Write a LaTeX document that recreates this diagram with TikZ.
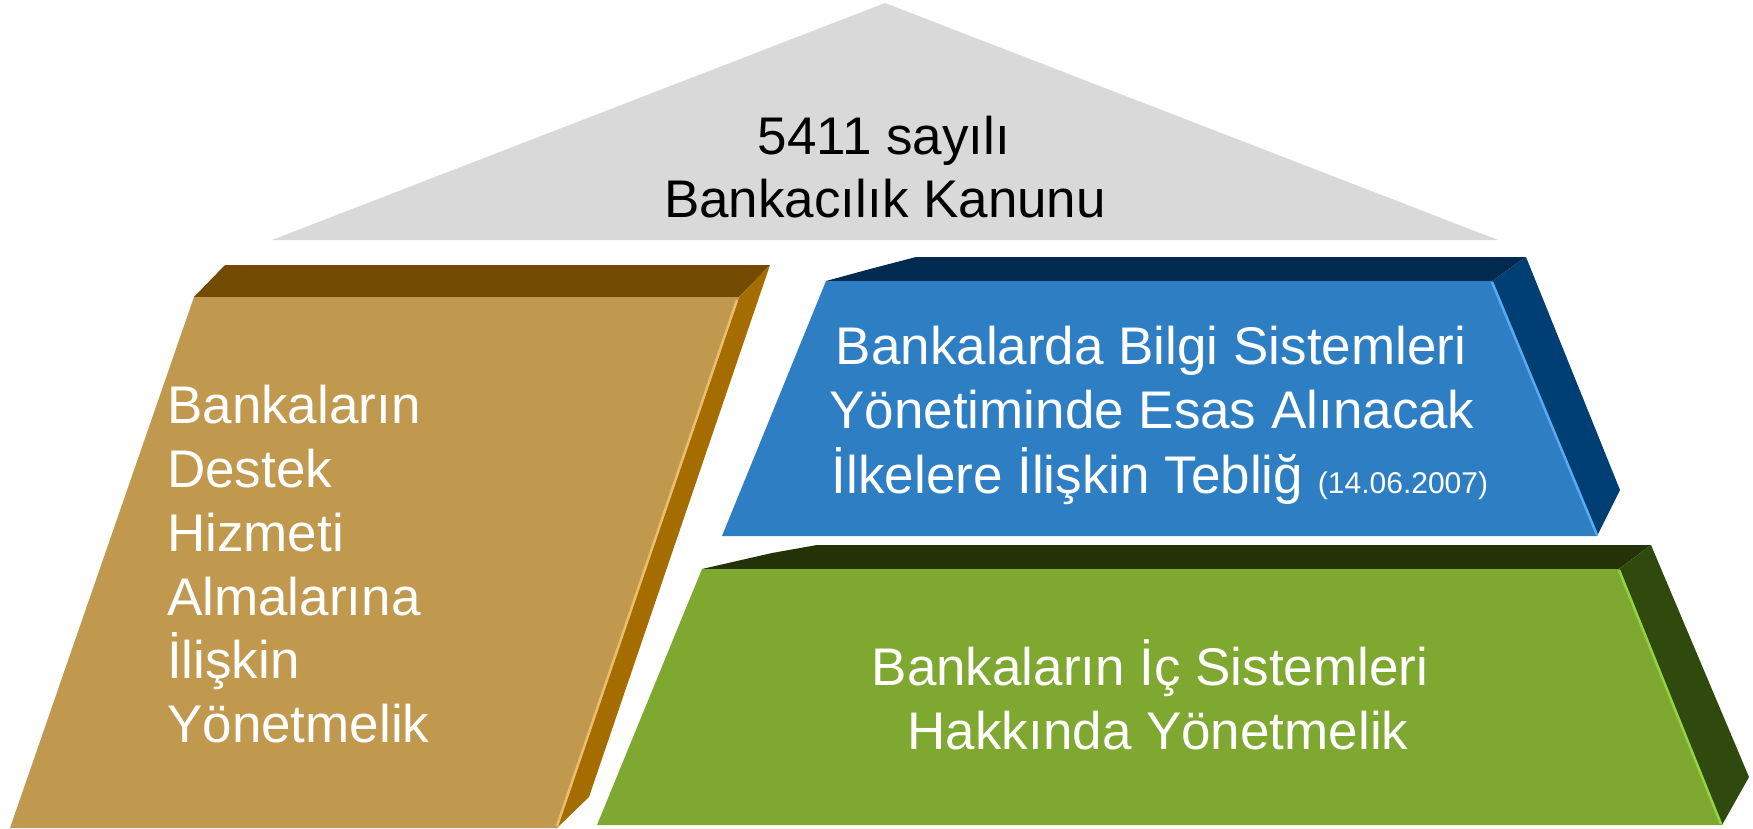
\documentclass[tikz,border=0pt]{standalone}
\usepackage{fontspec}
\setmainfont{Liberation Sans}
\definecolor{grayroof}{HTML}{D9D9D9}
\definecolor{brfront}{HTML}{C0984E}
\definecolor{brtop}{HTML}{724B00}
\definecolor{brside}{HTML}{A56D00}
\definecolor{brhi}{HTML}{EBBE6E}
\definecolor{blfront}{HTML}{2E7EC3}
\definecolor{bltop}{HTML}{002A50}
\definecolor{blside}{HTML}{003F74}
\definecolor{blhi}{HTML}{5AAAF0}
\definecolor{grfront}{HTML}{7EA82F}
\definecolor{grtop}{HTML}{243307}
\definecolor{grside}{HTML}{304A0E}
\definecolor{grhi}{HTML}{94D444}
\tikzset{
  bigtext/.style={inner sep=0pt, font=\fontsize{53}{64}\selectfont},
  whitetext/.style={bigtext, text=white},
  hiline/.style={line width=2.5pt}
}
\begin{document}
\begin{tikzpicture}[x=1pt,y=-1pt]
\useasboundingbox (0,0) rectangle (1753,829);
% roof
\fill[grayroof] (272,240) -- (885,3) -- (1498,240) -- cycle;
\node[bigtext, anchor=base] (roof1) at (884,155) {5411 sayılı};
\node[bigtext, anchor=base] (roof2) at (885,218) {Bankacılık Kanunu};
% brown block
\fill[brtop] (194,297) -- (225,265) -- (770,265) -- (739,297) -- cycle;
\fill[brside] (739,297) -- (770,265) -- (589,797) -- (557,828) -- cycle;
\fill[brfront] (194,297) -- (739,297) -- (557,828) -- (10,828) -- cycle;
\draw[brhi, hiline] (737,300) -- (557,826);
\node[whitetext, anchor=base west] (b1) at (167,423) {Bankaların};
\node[whitetext, anchor=base west] (b2) at (167,487) {Destek};
\node[whitetext, anchor=base west] (b3) at (167,551) {Hizmeti};
\node[whitetext, anchor=base west] (b4) at (167,615) {Almalarına};
\node[whitetext, anchor=base west] (b5) at (167,678) {İlişkin};
\node[whitetext, anchor=base west] (b6) at (167,742) {Yönetmelik};
% blue block
\fill[bltop] (826,281) -- (870,269) -- (916,257) -- (1526,257) -- (1492,281) -- cycle;
\fill[blside] (1492,281) -- (1526,257) -- (1620,490) -- (1597,536) -- cycle;
\fill[blfront] (826,281) -- (1492,281) -- (1597,536) -- (722,536) -- cycle;
\draw[blhi, hiline] (1492,282) -- (1597,535);
\node[whitetext, anchor=base] (u1) at (1151,364) {Bankalarda Bilgi Sistemleri};
\node[whitetext, anchor=base] (u2) at (1152,428) {Yönetiminde Esas Alınacak};
\node[whitetext, anchor=base] (u3) at (1160,493) {İlkelere İlişkin Tebliğ {\fontsize{30}{30}\selectfont (14.06.2007)}};
% green block
\fill[grtop] (702,569) -- (772,553) -- (817,545) -- (1651,545) -- (1619,569) -- cycle;
\fill[grside] (1619,569) -- (1651,545) -- (1749,777) -- (1722,825) -- cycle;
\fill[grfront] (702,569) -- (1619,569) -- (1722,825) -- (597,825) -- cycle;
\draw[grhi, hiline] (1619,570) -- (1721,824);
\node[whitetext, anchor=base] (g1) at (1150,685) {Bankaların İç Sistemleri};
\node[whitetext, anchor=base] (g2) at (1158,749) {Hakkında Yönetmelik};
\end{tikzpicture}
\end{document}
